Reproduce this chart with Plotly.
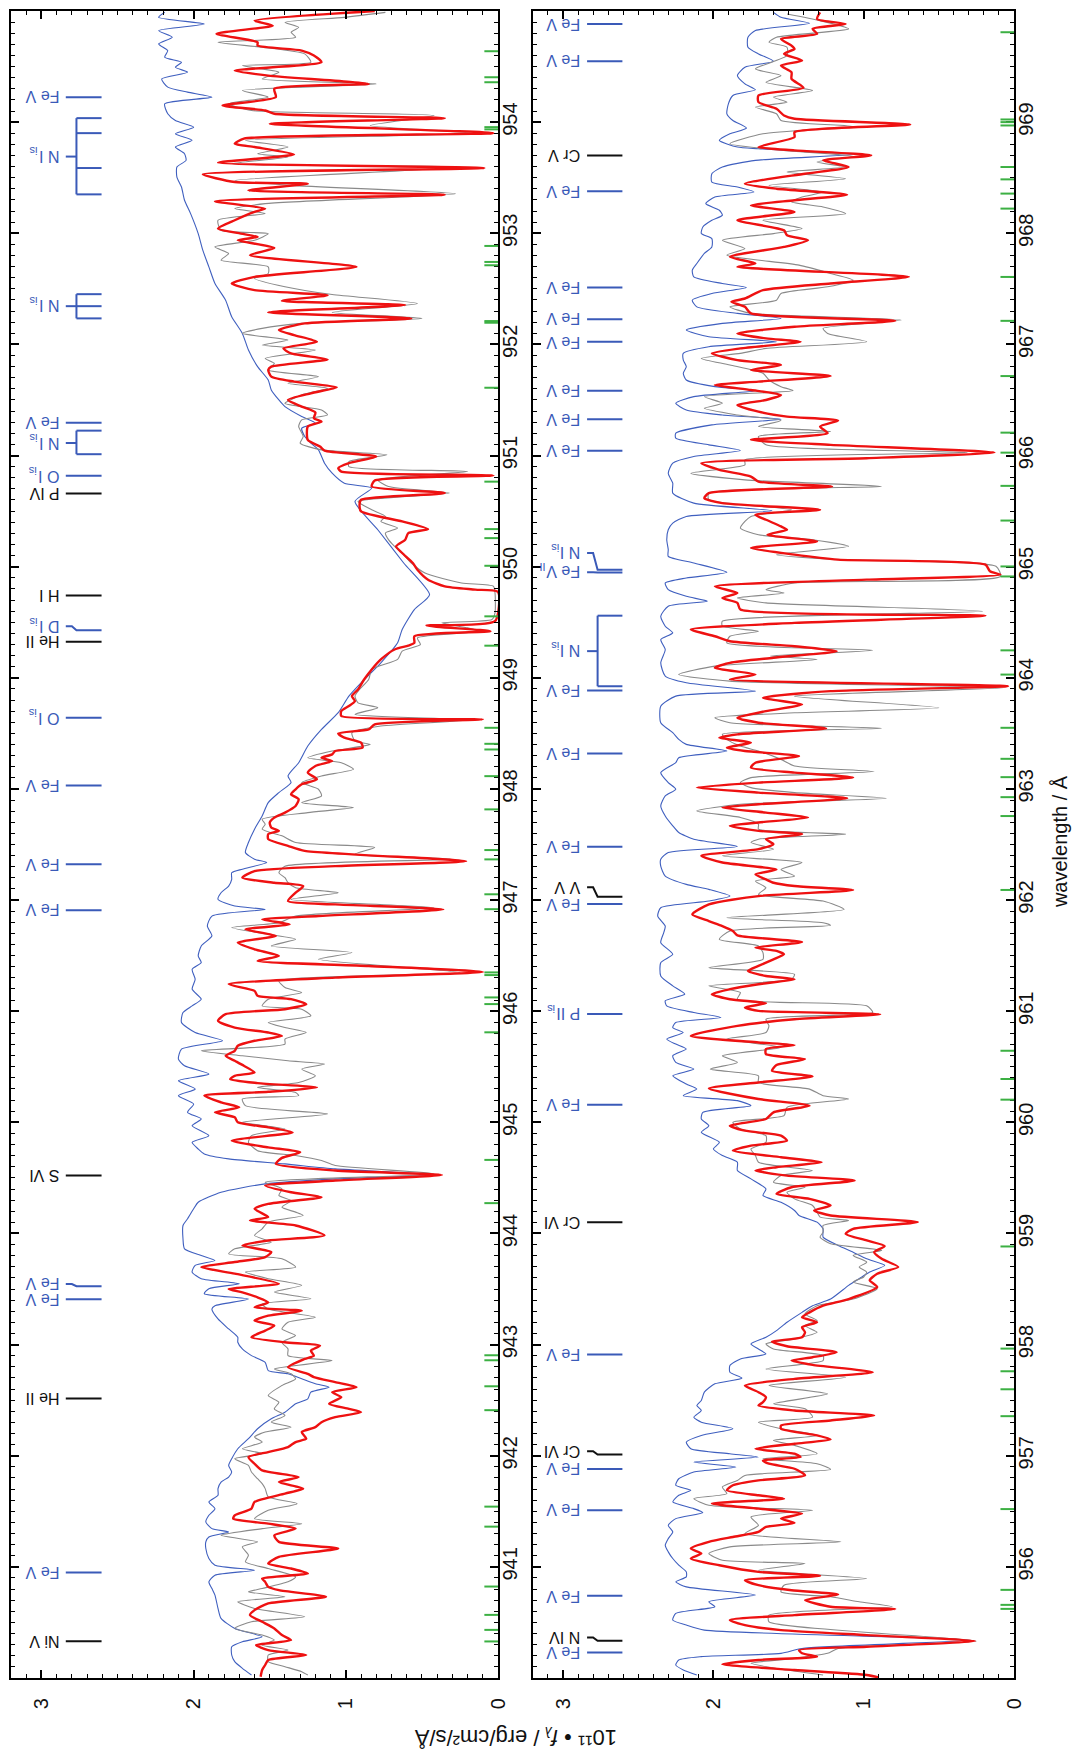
import plotly.graph_objects as go

# ---------------------------------------------------------------------------
# Spectral data (wavelength in Angstrom, flux in 1e-11 erg/cm^2/s/A)
# Panel A: 940-955 A, panel B: 955-970 A
# ---------------------------------------------------------------------------

# observed spectrum, panel A
obs_a = [
    (954.988, 0.74), (954.943, 1.01), (954.898, 1.40), (954.853, 1.31), (954.809, 1.36), (954.764, 1.33),
    (954.719, 1.84), (954.674, 1.55), (954.614, 1.27), (954.539, 1.23), (954.509, 1.68), (954.449, 1.44),
    (954.389, 1.55), (954.344, 0.80), (954.285, 1.68), (954.225, 1.51), (954.165, 1.77), (954.105, 1.62),
    (954.060, 0.42), (953.970, 0.84), (953.901, 0.18), (953.836, 1.66), (953.776, 1.38), (953.716, 1.58),
    (953.686, 1.38), (953.626, 1.75), (953.596, 0.24), (953.476, 1.73), (953.431, 1.36), (953.356, 0.28),
    (953.267, 1.53), (953.222, 1.73), (953.177, 1.53), (953.117, 1.84), (953.027, 1.82), (952.997, 1.51),
    (952.937, 1.60), (952.877, 1.86), (952.818, 1.77), (952.758, 1.82), (952.698, 1.51), (952.638, 1.51),
    (952.593, 1.60), (952.518, 1.40), (952.449, 1.09), (952.368, 0.53), (952.288, 1.09), (952.234, 0.50),
    (952.189, 1.29), (952.144, 1.55), (952.099, 1.68), (952.039, 1.38), (951.994, 1.55), (951.949, 1.20),
    (951.874, 1.53), (951.829, 1.47), (951.770, 1.51), (951.710, 1.18), (951.650, 1.38), (951.605, 1.12),
    (951.545, 1.29), (951.470, 1.40), (951.410, 1.16), (951.365, 1.12), (951.321, 1.29), (951.261, 1.31),
    (951.171, 1.28), (951.111, 1.30), (951.051, 1.16), (951.006, 0.73), (950.946, 0.98), (950.901, 0.98),
    (950.856, 0.20), (950.781, 0.79), (950.721, 0.72), (950.662, 0.32), (950.587, 0.92), (950.512, 0.83),
    (950.452, 0.74), (950.407, 0.77), (950.347, 0.66), (950.302, 0.74), (950.243, 0.72), (950.183, 0.68),
    (950.123, 0.63), (950.033, 0.57), (949.943, 0.48), (949.853, 0.24), (949.823, 0.03), (949.764, 0.02),
    (949.584, 0.02), (949.524, 0.04), (949.494, 0.37), (949.449, 0.20), (949.419, 0.13), (949.359, 0.53),
    (949.299, 0.51), (949.240, 0.63), (949.165, 0.66), (949.075, 0.83), (948.985, 0.85), (948.895, 0.91),
    (948.835, 0.94), (948.775, 0.92), (948.731, 0.79), (948.671, 0.94), (948.620, 0.20), (948.566, 0.77),
    (948.506, 0.96), (948.431, 0.94), (948.401, 0.84), (948.341, 1.09), (948.281, 1.25), (948.236, 1.03),
    (948.177, 0.95), (948.117, 1.16), (948.057, 1.29), (947.997, 1.18), (947.937, 1.16), (947.877, 1.29),
    (947.832, 0.95), (947.787, 1.25), (947.728, 1.55), (947.683, 1.53), (947.638, 1.55), (947.578, 1.42),
    (947.518, 1.33), (947.473, 0.81), (947.413, 0.94), (947.368, 0.31), (947.305, 1.40), (947.246, 1.44),
    (947.201, 1.40), (947.156, 1.38), (947.111, 1.33), (947.066, 1.05), (947.006, 1.36), (946.931, 0.42),
    (946.856, 1.33), (946.796, 1.44), (946.752, 1.75), (946.692, 1.51), (946.647, 1.33), (946.587, 1.49),
    (946.527, 0.96), (946.467, 1.18), (946.347, 0.25), (946.273, 1.44), (946.213, 1.40), (946.168, 1.29),
    (946.108, 1.51), (946.048, 1.55), (946.018, 1.29), (945.958, 1.23), (945.898, 1.51), (945.853, 1.40),
    (945.808, 1.26), (945.749, 1.40), (945.704, 1.40), (945.644, 1.95), (945.599, 1.68), (945.554, 1.38),
    (945.524, 1.14), (945.479, 1.29), (945.419, 1.20), (945.359, 1.31), (945.314, 1.58), (945.269, 1.33),
    (945.240, 1.31), (945.210, 1.68), (945.150, 1.66), (945.075, 1.12), (945.000, 1.68), (944.940, 1.40),
    (944.880, 1.62), (944.820, 1.64), (944.745, 1.58), (944.701, 1.33), (944.656, 1.16), (944.611, 1.07),
    (944.536, 0.42), (944.461, 1.53), (944.401, 1.42), (944.341, 1.44), (944.296, 1.36), (944.237, 1.42),
    (944.192, 1.33), (944.162, 1.28), (944.102, 1.51), (944.042, 1.55), (943.982, 1.60), (943.922, 1.49),
    (943.862, 1.73), (943.817, 1.77), (943.772, 1.42), (943.698, 1.33), (943.653, 1.66), (943.593, 1.51),
    (943.533, 1.29), (943.473, 1.47), (943.413, 1.23), (943.365, 1.55), (943.320, 1.51), (943.246, 1.20),
    (943.201, 1.38), (943.141, 1.42), (943.081, 1.33), (943.021, 1.42), (942.961, 1.38), (942.901, 1.38),
    (942.856, 1.09), (942.781, 1.47), (942.737, 1.36), (942.692, 1.33), (942.632, 1.42), (942.542, 1.51),
    (942.482, 1.44), (942.422, 1.47), (942.362, 1.40), (942.302, 1.49), (942.257, 1.36), (942.213, 1.53),
    (942.168, 1.60), (942.123, 1.55), (942.063, 1.68), (942.018, 1.55), (941.973, 1.73), (941.913, 1.64),
    (941.853, 1.62), (941.793, 1.58), (941.749, 1.55), (941.704, 1.53), (941.629, 1.51), (941.569, 1.32),
    (941.509, 1.51), (941.434, 1.60), (941.389, 1.29), (941.344, 1.55), (941.284, 1.82), (941.225, 1.58),
    (941.180, 1.68), (941.105, 1.64), (941.045, 1.66), (940.985, 1.51), (940.910, 1.33), (940.865, 1.38),
    (940.805, 1.55), (940.775, 1.64), (940.731, 1.40), (940.686, 1.71), (940.626, 1.60), (940.551, 1.27),
    (940.506, 1.62), (940.446, 1.73), (940.386, 1.55), (940.341, 1.47), (940.296, 1.55), (940.251, 1.38),
    (940.207, 1.51), (940.147, 1.51), (940.102, 1.40), (940.057, 1.29), (940.027, 1.25),
]

# final model, panel A
model_a = [
    (955.000, 0.81), (954.913, 1.60), (954.868, 1.48), (954.794, 1.85), (954.719, 1.58), (954.689, 1.58),
    (954.644, 1.29), (954.599, 1.21), (954.539, 1.16), (954.464, 1.73), (954.419, 1.51), (954.344, 0.85),
    (954.300, 1.47), (954.225, 1.46), (954.150, 1.81), (954.105, 1.53), (954.075, 1.47), (954.036, 0.35),
    (953.985, 1.50), (953.901, 0.03), (953.851, 1.67), (953.806, 1.73), (953.776, 1.60), (953.710, 1.34),
    (953.635, 1.84), (953.587, 0.09), (953.530, 1.94), (953.461, 1.73), (953.446, 1.25), (953.386, 1.64),
    (953.347, 0.35), (953.288, 1.86), (953.222, 1.53), (953.192, 1.60), (953.117, 1.73), (953.042, 1.84),
    (952.997, 1.69), (952.967, 1.58), (952.937, 1.71), (952.868, 1.47), (952.803, 1.63), (952.698, 0.93),
    (952.608, 1.60), (952.548, 1.75), (952.488, 1.60), (952.443, 1.12), (952.392, 1.42), (952.354, 0.61),
    (952.288, 1.51), (952.234, 0.57), (952.189, 1.27), (952.129, 1.44), (952.084, 1.34), (952.024, 1.19),
    (951.964, 1.41), (951.919, 1.36), (951.865, 1.12), (951.800, 1.49), (951.770, 1.51), (951.710, 1.49),
    (951.665, 1.34), (951.614, 1.06), (951.560, 1.23), (951.500, 1.38), (951.440, 1.29), (951.387, 1.20),
    (951.335, 1.21), (951.305, 1.16), (951.261, 1.25), (951.141, 1.25), (951.081, 1.17), (951.045, 1.14),
    (950.991, 0.80), (950.931, 0.98), (950.886, 1.05), (950.856, 1.03), (950.820, 0.03), (950.775, 0.81),
    (950.721, 0.83), (950.662, 0.35), (950.602, 0.90), (950.557, 0.91), (950.497, 0.90), (950.407, 0.63),
    (950.338, 0.46), (950.302, 0.59), (950.243, 0.61), (950.183, 0.67), (950.123, 0.63), (950.033, 0.56),
    (949.973, 0.53), (949.883, 0.46), (949.823, 0.35), (949.793, 0.15), (949.772, 0.00), (949.509, 0.02),
    (949.470, 0.47), (949.419, 0.05), (949.374, 0.55), (949.315, 0.55), (949.290, 0.59), (949.255, 0.68),
    (949.165, 0.77), (949.075, 0.83), (948.985, 0.88), (948.895, 0.92), (948.835, 0.96), (948.790, 0.94),
    (948.746, 0.98), (948.701, 1.03), (948.656, 1.03), (948.626, 0.10), (948.581, 0.81), (948.536, 0.85),
    (948.500, 1.05), (948.461, 1.01), (948.416, 0.90), (948.371, 0.89), (948.341, 1.07), (948.311, 1.09),
    (948.281, 1.16), (948.251, 1.09), (948.207, 1.20), (948.147, 1.25), (948.087, 1.19), (948.042, 1.29),
    (947.997, 1.33), (947.952, 1.36), (947.907, 1.31), (947.847, 1.33), (947.787, 1.40), (947.742, 1.47),
    (947.698, 1.50), (947.653, 1.49), (947.623, 1.44), (947.593, 1.51), (947.548, 1.51), (947.488, 1.38),
    (947.443, 1.27), (947.350, 0.21), (947.305, 1.07), (947.261, 1.60), (947.201, 1.68), (947.156, 1.47),
    (947.126, 1.28), (947.066, 1.33), (946.991, 1.38), (946.961, 1.07), (946.916, 0.36), (946.856, 1.18),
    (946.826, 1.55), (946.781, 1.37), (946.737, 1.66), (946.677, 1.46), (946.617, 1.71), (946.557, 1.60),
    (946.497, 1.44), (946.452, 1.58), (946.407, 0.85), (946.353, 0.10), (946.302, 1.07), (946.243, 1.77),
    (946.183, 1.60), (946.138, 1.58), (946.108, 1.36), (946.063, 1.26), (946.018, 1.40), (945.973, 1.79),
    (945.913, 1.84), (945.853, 1.73), (945.808, 1.51), (945.778, 1.42), (945.734, 1.60), (945.689, 1.71),
    (945.644, 1.73), (945.599, 1.79), (945.554, 1.73), (945.509, 1.67), (945.449, 1.60), (945.419, 1.73),
    (945.389, 1.76), (945.353, 1.58), (945.314, 1.19), (945.275, 1.51), (945.240, 1.93), (945.180, 1.82),
    (945.135, 1.70), (945.090, 1.86), (945.045, 1.73), (945.000, 1.71), (944.955, 1.51), (944.910, 1.35),
    (944.835, 1.75), (944.775, 1.51), (944.731, 1.30), (944.680, 1.42), (944.626, 1.46), (944.566, 1.07),
    (944.527, 0.37), (944.476, 1.07), (944.431, 1.53), (944.371, 1.36), (944.326, 1.16), (944.266, 1.51),
    (944.222, 1.60), (944.147, 1.51), (944.117, 1.63), (944.072, 1.33), (943.982, 1.14), (943.937, 1.51),
    (943.892, 1.68), (943.832, 1.49), (943.787, 1.53), (943.743, 1.73), (943.698, 1.95), (943.638, 1.73),
    (943.548, 1.44), (943.500, 1.77), (943.470, 1.68), (943.425, 1.58), (943.380, 1.51), (943.335, 1.60),
    (943.305, 1.29), (943.260, 1.51), (943.216, 1.60), (943.171, 1.47), (943.126, 1.53), (943.066, 1.62),
    (943.021, 1.40), (942.991, 1.17), (942.946, 1.23), (942.901, 1.21), (942.871, 1.27), (942.796, 1.38),
    (942.737, 1.25), (942.707, 1.21), (942.662, 1.07), (942.617, 0.93), (942.572, 1.09), (942.527, 1.03),
    (942.467, 1.11), (942.422, 0.98), (942.392, 0.90), (942.347, 1.07), (942.302, 1.16), (942.257, 1.20),
    (942.213, 1.29), (942.153, 1.26), (942.123, 1.33), (942.078, 1.38), (942.033, 1.51), (941.988, 1.64),
    (941.928, 1.60), (941.868, 1.55), (941.808, 1.31), (941.763, 1.44), (941.704, 1.28), (941.659, 1.40),
    (941.584, 1.60), (941.524, 1.62), (941.464, 1.73), (941.434, 1.74), (941.389, 1.51), (941.344, 1.33),
    (941.284, 1.47), (941.225, 1.44), (941.165, 1.05), (941.090, 1.44), (941.030, 1.51), (940.985, 1.36),
    (940.940, 1.25), (940.895, 1.55), (940.865, 1.53), (940.820, 1.51), (940.790, 1.44), (940.731, 1.13),
    (940.671, 1.51), (940.611, 1.60), (940.566, 1.63), (940.506, 1.55), (940.446, 1.47), (940.386, 1.42),
    (940.341, 1.36), (940.296, 1.59), (940.251, 1.51), (940.207, 1.26), (940.162, 1.51), (940.117, 1.53),
    (940.072, 1.55), (940.012, 1.56),
]

# comparison model, panel A
comp_a = [
    (954.988, 2.19), (954.943, 2.23), (954.883, 1.93), (954.824, 2.23), (954.764, 2.14), (954.704, 2.23),
    (954.644, 2.17), (954.584, 2.19), (954.539, 2.08), (954.494, 2.12), (954.449, 2.04), (954.389, 2.21),
    (954.315, 2.17), (954.270, 2.04), (954.225, 1.88), (954.165, 2.19), (954.075, 2.17), (954.015, 2.12),
    (953.955, 2.00), (953.895, 2.12), (953.836, 2.01), (953.776, 2.12), (953.716, 2.06), (953.656, 2.05),
    (953.596, 2.11), (953.506, 2.11), (953.416, 2.08), (953.297, 2.06), (953.177, 2.02), (952.997, 1.97),
    (952.848, 1.94), (952.698, 1.90), (952.548, 1.86), (952.398, 1.79), (952.249, 1.75), (952.099, 1.68),
    (951.949, 1.64), (951.800, 1.58), (951.680, 1.51), (951.590, 1.49), (951.500, 1.44), (951.440, 1.40),
    (951.351, 1.29), (951.291, 1.20), (951.246, 1.29), (951.171, 1.27), (951.111, 1.23), (951.051, 1.18),
    (950.931, 1.14), (950.841, 1.09), (950.751, 1.01), (950.707, 0.83), (950.587, 0.94), (950.332, 0.79),
    (950.033, 0.62), (949.748, 0.45), (949.614, 0.55), (949.434, 0.63), (949.315, 0.66), (949.135, 0.77),
    (948.955, 0.90), (948.835, 0.98), (948.686, 1.05), (948.536, 1.16), (948.386, 1.25), (948.236, 1.31),
    (948.117, 1.38), (948.057, 1.36), (947.967, 1.44), (947.877, 1.51), (947.757, 1.55), (947.638, 1.60),
    (947.518, 1.64), (947.428, 1.66), (947.368, 1.60), (947.338, 1.52), (947.278, 1.68), (947.246, 1.75),
    (947.186, 1.75), (947.126, 1.77), (947.066, 1.82), (947.006, 1.84), (946.946, 1.73), (946.916, 1.53),
    (946.856, 1.88), (946.766, 1.91), (946.677, 1.88), (946.587, 1.95), (946.497, 1.97), (946.437, 1.95),
    (946.377, 2.01), (946.287, 1.99), (946.198, 2.01), (946.108, 1.95), (946.048, 2.01), (945.988, 2.07),
    (945.898, 2.08), (945.808, 1.99), (945.734, 1.81), (945.659, 2.08), (945.569, 2.10), (945.509, 2.06),
    (945.434, 1.90), (945.374, 2.10), (945.299, 1.99), (945.240, 2.10), (945.165, 2.00), (945.090, 2.04),
    (945.030, 1.95), (944.970, 2.01), (944.880, 1.90), (944.820, 2.01), (944.760, 1.97), (944.716, 1.93),
    (944.671, 1.77), (944.626, 1.40), (944.581, 1.07), (944.527, 0.42), (944.491, 1.07), (944.446, 1.53),
    (944.371, 1.82), (944.281, 1.97), (944.222, 2.00), (944.132, 2.04), (944.072, 2.07), (943.952, 2.07),
    (943.862, 2.06), (943.802, 1.95), (943.757, 1.86), (943.713, 1.99), (943.653, 2.01), (943.593, 1.95),
    (943.548, 1.70), (943.503, 1.90), (943.458, 1.93), (943.410, 1.64), (943.350, 1.86), (943.320, 1.88),
    (943.231, 1.84), (943.141, 1.77), (943.066, 1.71), (943.021, 1.71), (942.961, 1.68), (942.901, 1.62),
    (942.841, 1.53), (942.766, 1.51), (942.737, 1.38), (942.692, 1.29), (942.647, 1.20), (942.617, 1.11),
    (942.572, 1.23), (942.512, 1.25), (942.467, 1.33), (942.392, 1.40), (942.332, 1.49), (942.243, 1.58),
    (942.153, 1.64), (942.063, 1.71), (941.973, 1.75), (941.913, 1.77), (941.853, 1.75), (941.808, 1.77),
    (941.763, 1.82), (941.704, 1.84), (941.644, 1.84), (941.584, 1.90), (941.524, 1.86), (941.464, 1.90),
    (941.404, 1.92), (941.344, 1.88), (941.314, 1.77), (941.269, 1.90), (941.225, 1.92), (941.165, 1.92),
    (941.075, 1.90), (941.015, 1.86), (940.970, 1.60), (940.925, 1.86), (940.865, 1.90), (940.805, 1.88),
    (940.746, 1.86), (940.626, 1.84), (940.536, 1.82), (940.446, 1.73), (940.371, 1.55), (940.326, 1.68),
    (940.281, 1.75), (940.207, 1.75), (940.147, 1.73), (940.087, 1.68), (940.027, 1.62),
]

# observed spectrum, panel B
obs_b = [
    (969.973, 1.51), (969.913, 1.29), (969.839, 1.10), (969.764, 1.58), (969.719, 1.63), (969.674, 1.51),
    (969.599, 1.51), (969.479, 1.72), (969.419, 1.55), (969.359, 1.65), (969.285, 1.34), (969.225, 1.60),
    (969.180, 1.51), (969.135, 1.72), (969.075, 1.58), (969.015, 1.55), (968.961, 1.07), (968.895, 1.67),
    (968.806, 1.89), (968.746, 1.53), (968.692, 1.07), (968.641, 1.31), (968.596, 1.12), (968.551, 1.51),
    (968.491, 1.12), (968.431, 1.63), (968.371, 1.27), (968.326, 1.41), (968.282, 1.48), (968.237, 1.27),
    (968.177, 1.12), (968.117, 1.67), (968.042, 1.41), (967.997, 1.60), (967.937, 1.94), (967.862, 1.79),
    (967.803, 1.91), (967.713, 1.43), (967.638, 1.22), (967.578, 1.07), (967.518, 1.24), (967.458, 1.55),
    (967.398, 1.58), (967.338, 1.89), (967.279, 1.75), (967.219, 0.75), (967.144, 1.27), (967.099, 1.24),
    (967.024, 0.98), (966.964, 1.65), (966.919, 1.82), (966.874, 2.08), (966.815, 1.89), (966.740, 1.67),
    (966.680, 1.63), (966.620, 1.55), (966.584, 1.47), (966.530, 2.06), (966.470, 1.94), (966.425, 2.06),
    (966.365, 1.84), (966.315, 1.55), (966.261, 1.70), (966.216, 1.22), (966.171, 1.70), (966.096, 1.65),
    (966.027, 0.31), (965.961, 1.79), (965.916, 1.79), (965.841, 2.15), (965.781, 1.79), (965.721, 0.88),
    (965.662, 2.03), (965.602, 2.03), (965.512, 1.48), (965.452, 1.75), (965.407, 1.79), (965.347, 1.82),
    (965.287, 1.70), (965.242, 1.34), (965.183, 1.10), (965.108, 1.58), (965.063, 1.17), (965.003, 0.12),
    (964.913, 0.09), (964.853, 1.46), (964.793, 1.65), (964.763, 1.53), (964.718, 1.84), (964.674, 1.65),
    (964.599, 0.21), (964.509, 1.94), (964.464, 1.94), (964.419, 1.70), (964.374, 1.89), (964.314, 1.91),
    (964.248, 0.94), (964.195, 1.62), (964.165, 1.31), (964.105, 1.99), (964.030, 2.23), (963.970, 1.89),
    (963.910, 0.07), (963.835, 1.46), (963.730, 0.50), (963.685, 1.46), (963.641, 1.99), (963.596, 1.89),
    (963.545, 0.88), (963.491, 1.94), (963.446, 1.91), (963.386, 1.82), (963.341, 1.70), (963.266, 1.55),
    (963.207, 1.46), (963.156, 0.93), (963.102, 1.75), (963.057, 1.82), (963.012, 1.75), (962.967, 1.46),
    (962.916, 0.85), (962.862, 1.82), (962.802, 2.11), (962.743, 1.82), (962.683, 1.70), (962.638, 1.70),
    (962.593, 1.12), (962.548, 1.70), (962.518, 1.75), (962.458, 1.60), (962.398, 1.94), (962.338, 1.41),
    (962.275, 1.55), (962.216, 1.46), (962.171, 1.72), (962.111, 1.65), (962.051, 1.70), (961.991, 1.27),
    (961.916, 1.13), (961.841, 1.91), (961.796, 1.27), (961.772, 1.22), (961.722, 1.89), (961.647, 1.96),
    (961.587, 1.70), (961.527, 1.67), (961.467, 1.67), (961.392, 2.03), (961.332, 1.46), (961.287, 1.48),
    (961.228, 2.03), (961.168, 1.82), (961.108, 1.84), (961.048, 0.98), (960.988, 0.94), (960.928, 1.65),
    (960.868, 1.63), (960.808, 1.65), (960.749, 1.91), (960.674, 1.55), (960.599, 1.94), (960.539, 1.84),
    (960.479, 2.02), (960.419, 1.70), (960.359, 1.70), (960.299, 1.36), (960.240, 1.27), (960.210, 1.10),
    (960.135, 1.51), (960.060, 1.53), (960.000, 1.87), (959.940, 1.82), (959.880, 1.65), (959.820, 1.65),
    (959.760, 1.75), (959.701, 1.72), (959.641, 1.70), (959.566, 1.34), (959.521, 1.55), (959.461, 1.60),
    (959.416, 1.39), (959.371, 1.51), (959.311, 1.46), (959.252, 1.34), (959.192, 1.31), (959.147, 1.29),
    (959.117, 1.10), (959.072, 1.27), (959.012, 1.27), (958.967, 1.29), (958.907, 1.22), (958.847, 0.88),
    (958.802, 1.07), (958.742, 0.98), (958.698, 1.03), (958.653, 0.98), (958.608, 1.00), (958.563, 1.07),
    (958.503, 0.91), (958.410, 1.07), (958.350, 1.31), (958.275, 1.39), (958.216, 1.31), (958.171, 1.39),
    (958.111, 1.31), (958.051, 1.46), (958.006, 1.65), (957.961, 1.60), (957.901, 1.27), (957.856, 1.27),
    (957.781, 1.65), (957.707, 1.12), (957.632, 1.63), (957.557, 1.24), (957.467, 1.60), (957.422, 1.39),
    (957.347, 1.34), (957.302, 1.70), (957.243, 1.55), (957.183, 1.31), (957.138, 1.60), (957.093, 1.46),
    (957.018, 1.31), (956.973, 1.67), (956.928, 1.31), (956.877, 1.22), (956.823, 1.79), (956.778, 1.84),
    (956.719, 1.94), (956.659, 1.91), (956.614, 2.13), (956.554, 2.03), (956.509, 1.34), (956.449, 1.75),
    (956.374, 1.70), (956.299, 1.79), (956.225, 1.15), (956.180, 1.89), (956.120, 2.03), (956.060, 1.94),
    (956.030, 1.39), (955.970, 1.70), (955.895, 0.98), (955.835, 1.53), (955.775, 1.55), (955.731, 1.22),
    (955.686, 1.03), (955.641, 0.81), (955.566, 1.63), (955.506, 1.63), (955.332, 0.25), (955.266, 1.17),
    (955.222, 1.24), (955.177, 1.46), (955.132, 1.75), (955.072, 1.51), (955.027, 1.27),
]

# final model, panel B
model_b = [
    (969.988, 1.29), (969.928, 1.31), (969.883, 1.12), (969.839, 1.34), (969.794, 1.31), (969.749, 1.55),
    (969.689, 1.48), (969.659, 1.46), (969.614, 1.53), (969.554, 1.41), (969.509, 1.55), (969.449, 1.48),
    (969.389, 1.48), (969.309, 1.40), (969.240, 1.70), (969.180, 1.70), (969.120, 1.58), (969.060, 1.53),
    (969.030, 1.46), (968.979, 0.69), (968.910, 1.46), (968.865, 1.46), (968.776, 1.70), (968.746, 1.46),
    (968.701, 0.95), (968.656, 1.27), (968.596, 1.10), (968.536, 1.39), (968.446, 1.79), (968.401, 1.58),
    (968.347, 1.11), (968.297, 1.46), (968.252, 1.75), (968.192, 1.46), (968.117, 1.84), (968.027, 1.53),
    (967.982, 1.51), (967.937, 1.37), (967.877, 1.53), (967.788, 1.89), (967.728, 1.72), (967.698, 1.84),
    (967.608, 0.70), (967.548, 1.22), (967.488, 1.67), (967.413, 1.79), (967.383, 1.88), (967.338, 1.79),
    (967.279, 1.75), (967.213, 0.79), (967.159, 1.46), (967.099, 1.84), (967.054, 1.65), (967.024, 1.42),
    (966.964, 1.82), (966.919, 2.01), (966.859, 1.84), (966.815, 1.55), (966.770, 1.75), (966.716, 1.22),
    (966.665, 1.70), (966.635, 1.99), (966.590, 1.75), (966.545, 1.55), (966.500, 1.65), (966.455, 1.84),
    (966.395, 1.70), (966.350, 1.51), (966.315, 1.17), (966.261, 1.29), (966.201, 1.24), (966.141, 1.75),
    (966.096, 1.22), (966.027, 0.13), (965.976, 0.98), (965.931, 2.08), (965.871, 1.96), (965.811, 1.75),
    (965.766, 1.70), (965.721, 1.21), (965.662, 2.03), (965.617, 2.06), (965.572, 1.94), (965.512, 1.29),
    (965.467, 1.72), (965.422, 1.65), (965.362, 1.55), (965.332, 1.51), (965.287, 1.64), (965.227, 1.31),
    (965.168, 1.75), (965.108, 1.46), (965.063, 1.17), (965.018, 0.19), (964.958, 0.16), (964.928, 0.09),
    (964.883, 0.98), (964.823, 1.99), (964.763, 1.84), (964.718, 1.94), (964.674, 1.84), (964.614, 1.82),
    (964.560, 0.19), (964.494, 1.46), (964.434, 2.15), (964.374, 1.99), (964.329, 1.89), (964.284, 1.46),
    (964.239, 1.18), (964.180, 1.60), (964.135, 1.89), (964.090, 1.99), (964.030, 1.72), (963.985, 1.89),
    (963.925, 0.04), (963.880, 1.22), (963.820, 1.67), (963.760, 1.41), (963.700, 1.65), (963.641, 1.84),
    (963.596, 1.70), (963.545, 1.25), (963.491, 1.84), (963.461, 1.96), (963.416, 1.75), (963.371, 1.91),
    (963.341, 1.79), (963.296, 1.43), (963.236, 1.72), (963.192, 1.75), (963.147, 1.46), (963.102, 1.07),
    (963.057, 1.70), (963.012, 2.11), (962.967, 1.70), (962.916, 1.11), (962.862, 1.70), (962.832, 1.94),
    (962.787, 1.65), (962.743, 1.37), (962.698, 1.70), (962.668, 1.89), (962.623, 1.70), (962.593, 1.41),
    (962.548, 1.65), (962.503, 1.60), (962.458, 1.70), (962.398, 2.08), (962.338, 1.94), (962.275, 1.58),
    (962.231, 1.72), (962.186, 1.65), (962.156, 1.60), (962.126, 1.46), (962.090, 1.07), (962.036, 1.70),
    (961.961, 2.03), (961.871, 2.14), (961.811, 2.03), (961.766, 1.94), (961.722, 1.87), (961.683, 1.84),
    (961.623, 1.41), (961.572, 1.72), (961.542, 1.58), (961.512, 1.53), (961.467, 1.60), (961.407, 1.70),
    (961.362, 1.77), (961.317, 1.65), (961.287, 1.46), (961.243, 1.70), (961.198, 1.89), (961.153, 2.01),
    (961.108, 1.89), (961.072, 1.65), (961.033, 1.79), (961.003, 1.70), (960.973, 0.89), (960.928, 1.46),
    (960.868, 1.84), (960.778, 2.15), (960.719, 1.70), (960.695, 1.46), (960.659, 1.65), (960.614, 1.65),
    (960.569, 1.39), (960.515, 1.58), (960.464, 1.61), (960.413, 1.34), (960.359, 1.70), (960.305, 2.03),
    (960.210, 1.70), (960.150, 1.36), (960.090, 1.60), (960.030, 1.65), (959.970, 1.89), (959.925, 1.79),
    (959.880, 1.55), (959.835, 1.51), (959.790, 1.75), (959.745, 1.87), (959.686, 1.55), (959.641, 1.28),
    (959.596, 1.58), (959.566, 1.72), (959.521, 1.51), (959.476, 1.06), (959.416, 1.48), (959.356, 1.58),
    (959.311, 1.36), (959.252, 1.22), (959.207, 1.33), (959.162, 1.22), (959.102, 0.64), (959.042, 1.07),
    (958.997, 1.12), (958.937, 0.98), (958.886, 0.86), (958.832, 0.93), (958.772, 0.88), (958.698, 0.77),
    (958.638, 0.91), (958.578, 0.96), (958.518, 0.91), (958.410, 1.10), (958.350, 1.27), (958.290, 1.36),
    (958.246, 1.41), (958.201, 1.31), (958.156, 1.41), (958.111, 1.39), (958.066, 1.41), (958.027, 1.61),
    (957.985, 1.51), (957.931, 1.18), (957.886, 1.34), (957.856, 1.48), (957.817, 1.34), (957.751, 0.94),
    (957.692, 1.46), (957.632, 1.79), (957.572, 1.70), (957.527, 1.65), (957.482, 1.67), (957.452, 1.70),
    (957.407, 1.46), (957.362, 0.93), (957.317, 1.22), (957.272, 1.55), (957.243, 1.55), (957.183, 1.31),
    (957.147, 1.22), (957.108, 1.46), (957.063, 1.72), (957.018, 1.46), (956.988, 1.42), (956.958, 1.67),
    (956.928, 1.63), (956.883, 1.46), (956.823, 1.39), (956.778, 1.70), (956.734, 1.87), (956.689, 1.91),
    (956.644, 1.70), (956.614, 1.53), (956.569, 2.01), (956.524, 1.70), (956.479, 1.41), (956.434, 1.55),
    (956.395, 1.46), (956.359, 1.65), (956.314, 1.70), (956.269, 1.87), (956.225, 2.03), (956.165, 2.15),
    (956.120, 2.08), (956.075, 2.15), (956.015, 1.96), (955.955, 1.70), (955.919, 1.29), (955.880, 1.79),
    (955.835, 1.70), (955.790, 1.48), (955.751, 1.17), (955.701, 1.39), (955.641, 1.22), (955.620, 0.79),
    (955.566, 1.46), (955.521, 1.89), (955.476, 1.79), (955.431, 1.55), (955.386, 0.98), (955.332, 0.26),
    (955.281, 0.98), (955.251, 1.43), (955.222, 1.41), (955.192, 1.31), (955.162, 1.70), (955.123, 1.94),
    (955.072, 1.46), (955.027, 0.98), (955.005, 0.90),
]

# comparison model, panel B
comp_b = [
    (969.988, 1.60), (969.943, 1.55), (969.889, 1.36), (969.824, 1.72), (969.764, 1.77), (969.674, 1.77),
    (969.614, 1.70), (969.548, 1.60), (969.494, 1.79), (969.419, 1.84), (969.344, 1.79), (969.291, 1.72),
    (969.240, 1.87), (969.165, 1.90), (969.075, 1.91), (969.015, 1.87), (968.946, 1.78), (968.895, 1.89),
    (968.836, 1.96), (968.776, 1.84), (968.761, 1.70), (968.710, 1.07), (968.656, 1.72), (968.596, 1.94),
    (968.536, 2.01), (968.461, 2.01), (968.416, 1.84), (968.371, 1.73), (968.326, 1.99), (968.267, 2.05),
    (968.207, 1.96), (968.162, 1.94), (968.117, 2.01), (968.057, 2.07), (967.997, 2.08), (967.952, 2.01),
    (967.877, 2.01), (967.818, 2.06), (967.728, 2.11), (967.668, 2.14), (967.608, 2.13), (967.548, 1.94),
    (967.512, 1.78), (967.458, 2.01), (967.398, 2.14), (967.338, 2.11), (967.279, 1.84), (967.234, 1.55),
    (967.189, 1.94), (967.129, 2.18), (967.069, 2.03), (967.024, 1.58), (966.979, 2.03), (966.919, 2.20),
    (966.859, 2.20), (966.800, 2.18), (966.740, 2.20), (966.680, 2.18), (966.620, 1.99), (966.584, 1.72),
    (966.530, 2.13), (966.470, 2.25), (966.410, 2.18), (966.365, 1.94), (966.327, 1.55), (966.276, 2.01),
    (966.201, 2.25), (966.156, 2.25), (966.096, 2.03), (966.045, 1.82), (965.991, 2.13), (965.931, 2.27),
    (965.841, 2.30), (965.751, 2.27), (965.662, 2.27), (965.572, 2.13), (965.503, 1.61), (965.452, 2.18),
    (965.392, 2.27), (965.332, 2.30), (965.242, 2.31), (965.153, 2.30), (965.093, 2.30), (965.033, 2.13),
    (964.949, 1.91), (964.898, 2.18), (964.853, 2.32), (964.793, 2.30), (964.733, 2.18), (964.689, 2.04),
    (964.644, 2.30), (964.554, 2.35), (964.464, 2.32), (964.404, 2.27), (964.344, 2.35), (964.254, 2.32),
    (964.135, 2.35), (964.015, 2.32), (963.955, 2.18), (963.880, 1.72), (963.835, 2.25), (963.745, 2.35),
    (963.596, 2.35), (963.506, 2.27), (963.446, 2.23), (963.401, 2.18), (963.341, 1.91), (963.281, 2.23),
    (963.236, 2.25), (963.147, 2.35), (963.057, 2.30), (962.997, 2.25), (962.937, 2.32), (962.847, 2.35),
    (962.757, 2.32), (962.668, 2.27), (962.608, 2.23), (962.548, 2.13), (962.482, 1.84), (962.428, 2.30),
    (962.368, 2.35), (962.305, 2.35), (962.216, 2.32), (962.141, 2.18), (962.096, 2.03), (962.036, 1.89),
    (961.991, 2.03), (961.931, 2.35), (961.856, 2.37), (961.766, 2.32), (961.707, 2.33), (961.617, 2.35),
    (961.512, 2.27), (961.437, 2.35), (961.317, 2.35), (961.228, 2.27), (961.153, 2.19), (961.093, 2.32),
    (961.048, 2.31), (960.988, 2.13), (960.943, 1.95), (960.898, 2.25), (960.853, 2.27), (960.808, 2.20),
    (960.749, 2.31), (960.704, 2.25), (960.659, 2.18), (960.599, 2.27), (960.539, 2.25), (960.479, 2.13),
    (960.419, 2.27), (960.344, 2.18), (960.299, 2.11), (960.240, 2.20), (960.195, 1.84), (960.150, 1.75),
    (960.090, 2.07), (960.030, 2.08), (959.970, 2.03), (959.910, 2.08), (959.820, 1.96), (959.760, 2.00),
    (959.701, 1.94), (959.641, 1.84), (959.566, 1.84), (959.491, 1.75), (959.401, 1.65), (959.341, 1.67),
    (959.281, 1.55), (959.207, 1.46), (959.162, 1.43), (959.102, 1.31), (959.042, 1.27), (958.967, 1.27),
    (958.892, 1.17), (958.832, 1.07), (958.772, 0.98), (958.713, 0.86), (958.653, 0.96), (958.593, 1.03),
    (958.533, 1.10), (958.410, 1.22), (958.350, 1.34), (958.290, 1.41), (958.201, 1.51), (958.126, 1.58),
    (958.066, 1.65), (958.006, 1.75), (957.961, 1.70), (957.916, 1.65), (957.871, 1.82), (957.811, 1.89),
    (957.751, 1.89), (957.698, 1.81), (957.647, 1.99), (957.572, 2.06), (957.497, 2.08), (957.452, 2.11),
    (957.407, 2.08), (957.347, 2.13), (957.302, 2.08), (957.243, 1.87), (957.183, 2.08), (957.123, 2.18),
    (957.063, 2.15), (957.018, 1.89), (956.988, 1.70), (956.943, 2.13), (956.898, 1.85), (956.853, 2.13),
    (956.793, 2.23), (956.734, 2.25), (956.689, 2.15), (956.644, 2.23), (956.584, 2.27), (956.524, 2.13),
    (956.488, 2.07), (956.434, 2.25), (956.374, 2.30), (956.314, 2.27), (956.254, 2.30), (956.195, 2.32),
    (956.135, 2.30), (956.075, 2.27), (956.015, 2.23), (955.955, 2.18), (955.910, 2.18), (955.865, 2.25),
    (955.820, 2.18), (955.746, 1.72), (955.686, 2.03), (955.641, 1.99), (955.581, 2.25), (955.521, 2.27),
    (955.476, 2.18), (955.431, 2.06), (955.341, 0.30), (955.266, 1.41), (955.222, 1.55), (955.192, 2.08),
    (955.162, 2.23), (955.117, 2.25), (955.072, 2.20), (955.027, 2.11),
]

# line identifications: (ion, subscript, label wavelength, marker wavelengths, colour group)
ids_a = [
    ("Fe V", "", 954.225, [954.225], "blue"),
    ("N I", "is", 953.69, [954.036, 953.901, 953.587, 953.350], "blue"),
    ("N I", "is", 952.344, [952.452, 952.344, 952.234], "blue"),
    ("Fe V", "", 951.296, [951.296], "blue"),
    ("N I", "is", 951.113, [951.224, 951.012], "blue"),
    ("O I", "is", 950.817, [950.817], "blue"),
    ("P IV", "", 950.658, [950.658], "black"),
    ("H I", "", 949.741, [949.741], "black"),
    ("D I", "is", 949.463, [949.427], "blue"),
    ("He II", "", 949.325, [949.325], "black"),
    ("O I", "is", 948.640, [948.640], "blue"),
    ("Fe V", "", 948.032, [948.032], "blue"),
    ("Fe V", "", 947.322, [947.322], "blue"),
    ("Fe V", "", 946.909, [946.909], "blue"),
    ("S VI", "", 944.521, [944.521], "black"),
    ("Fe V", "", 943.545, [943.525], "blue"),
    ("Fe V", "", 943.407, [943.407], "blue"),
    ("He II", "", 942.515, [942.515], "black"),
    ("Fe V", "", 940.950, [940.950], "blue"),
    ("Ni V", "", 940.330, [940.330], "black"),
]
ids_b = [
    ("Fe V", "", 969.884, [969.884], "blue"),
    ("Fe V", "", 969.548, [969.548], "blue"),
    ("Cr V", "", 968.700, [968.700], "black"),
    ("Fe V", "", 968.377, [968.377], "blue"),
    ("Fe V", "", 967.512, [967.512], "blue"),
    ("Fe V", "", 967.227, [967.227], "blue"),
    ("Fe V", "", 967.023, [967.023], "blue"),
    ("Fe V", "", 966.583, [966.583], "blue"),
    ("Fe V", "", 966.326, [966.326], "blue"),
    ("Fe V", "", 966.044, [966.044], "blue"),
    ("N I", "is", 965.122, [964.972], "blue"),
    ("Fe V", "II", 964.950, [964.948], "blue"),
    ("N I", "is", 964.240, [964.559, 963.924], "blue"),
    ("Fe V", "", 963.885, [963.885], "blue"),
    ("Fe V", "", 963.319, [963.319], "blue"),
    ("Fe V", "", 962.480, [962.480], "blue"),
    ("V V", "", 962.115, [962.030], "black"),
    ("Fe V", "", 961.965, [961.965], "blue"),
    ("P II", "is", 960.974, [960.974], "blue"),
    ("Fe V", "", 960.159, [960.159], "blue"),
    ("Cr VI", "", 959.100, [959.100], "black"),
    ("Fe V", "", 957.910, [957.910], "blue"),
    ("Cr VI", "", 957.040, [957.010], "black"),
    ("Fe V", "", 956.880, [956.880], "blue"),
    ("Fe V", "", 956.510, [956.510], "blue"),
    ("Fe V", "", 955.740, [955.740], "blue"),
    ("N IV", "", 955.365, [955.335], "black"),
    ("Fe V", "", 955.230, [955.230], "blue"),
]

# interstellar H2 line positions (short green markers)
h2_a = [954.638, 954.404, 954.359, 953.955, 953.935, 952.886, 952.742, 952.712, 952.210, 952.195, 951.610,
        950.765, 950.338, 950.257, 950.008, 949.553, 949.289, 948.550, 948.406, 948.355, 948.115, 947.816,
        947.450, 947.366, 947.052, 946.918, 946.349, 946.325, 946.124, 946.064, 945.810, 944.662, 944.273,
        942.904, 942.859, 942.625, 942.410, 941.542, 941.362, 940.823, 940.568, 940.433, 940.329]
h2_b = [969.809, 969.024, 969.000, 968.970, 968.596, 968.485, 968.357, 968.222, 967.607, 967.212, 966.715,
        966.206, 966.026, 965.727, 965.415, 965.002, 964.912, 964.247, 964.029, 963.550, 963.271, 963.106,
        962.926, 962.756, 962.091, 960.644, 960.390, 960.204, 958.883, 957.964, 957.760, 957.598, 957.356,
        956.520, 955.793, 955.658, 955.622]

# ---------------------------------------------------------------------------
FONT = "Liberation Sans, Arial, Helvetica, sans-serif"
RED = "#ee1111"
GRAY = "#8a8a8a"
BLUE = "#3f5fbf"
ID_COLORS = {"blue": "#3a5ab8", "black": "#111111"}
GREEN = "#3cb043"

# Arial/Liberation Sans advance widths (em) for the label glyphs
GLYPH_W = {"F": 0.611, "e": 0.556, " ": 0.278, "V": 0.667, "N": 0.722, "I": 0.278, "O": 0.778,
           "D": 0.722, "P": 0.667, "H": 0.722, "S": 0.667, "C": 0.722, "r": 0.333, "i": 0.222}
ID_SIZE = 16


def text_width(s, size):
    return sum(GLYPH_W.get(ch, 0.6) for ch in s) * size


fig = go.Figure()


def add_panel(xa, ya, obs, model, comp):
    for pts, color, width in ((comp, BLUE, 1.1), (obs, GRAY, 1.1), (model, RED, 2.4)):
        fig.add_trace(go.Scatter(
            x=[p[1] for p in pts], y=[p[0] for p in pts],
            mode="lines", line=dict(color=color, width=width, shape="spline", smoothing=0.6),
            xaxis=xa, yaxis=ya, showlegend=False, hoverinfo="skip"))


add_panel("x", "y", obs_a, model_a, comp_a)
add_panel("x2", "y2", obs_b, model_b, comp_b)

shapes = []
annotations = []

# horizontal positions of identification markers, in flux units
X_TEXT, X_START, X_BRACKET, X_END = 2.87, 2.84, 2.77, 2.605


def add_ids(ids, xr, yr):
    for ion, sub, lab, ticks, grp in ids:
        col = ID_COLORS[grp]
        annotations.append(dict(
            x=X_TEXT, y=lab, xref=xr, yref=yr, text=ion, showarrow=False,
            textangle=180, xanchor="right", yanchor="middle",
            font=dict(family=FONT, size=ID_SIZE, color=col)))
        if sub:
            # subscript follows the ion name; the label is drawn upside down,
            # so it sits to the left of the name and slightly higher
            annotations.append(dict(
                x=X_TEXT, y=lab, xref=xr, yref=yr, text=sub, showarrow=False,
                textangle=180, xanchor="right", yanchor="middle",
                xshift=-(text_width(ion, ID_SIZE) + 1), yshift=5,
                font=dict(family=FONT, size=11, color=col)))
        if len(ticks) > 1:
            shapes.append(dict(type="line", xref=xr, yref=yr, x0=X_BRACKET, x1=X_BRACKET,
                               y0=min(ticks), y1=max(ticks), line=dict(color=col, width=2)))
            shapes.append(dict(type="line", xref=xr, yref=yr, x0=X_START, x1=X_BRACKET,
                               y0=lab, y1=lab, line=dict(color=col, width=2)))
            for t in ticks:
                shapes.append(dict(type="line", xref=xr, yref=yr, x0=X_BRACKET, x1=X_END,
                                   y0=t, y1=t, line=dict(color=col, width=2)))
        elif abs(ticks[0] - lab) > 1e-6:
            t = ticks[0]
            path = f"M {X_START},{lab} L 2.80,{lab} L {X_BRACKET},{t} L {X_END},{t}"
            shapes.append(dict(type="path", xref=xr, yref=yr, path=path,
                               line=dict(color=col, width=2)))
        else:
            shapes.append(dict(type="line", xref=xr, yref=yr, x0=X_START, x1=X_END,
                               y0=lab, y1=lab, line=dict(color=col, width=2)))


add_ids(ids_a, "x", "y")
add_ids(ids_b, "x2", "y2")

for wl in h2_a:
    shapes.append(dict(type="line", xref="x", yref="y", x0=0.0, x1=0.09, y0=wl, y1=wl,
                       line=dict(color=GREEN, width=2)))
for wl in h2_b:
    shapes.append(dict(type="line", xref="x2", yref="y2", x0=0.0, x1=0.09, y0=wl, y1=wl,
                       line=dict(color=GREEN, width=2)))

# wavelength axis title (right-hand side, reading upwards)
annotations.append(dict(x=1.0458, y=0.502, xref="paper", yref="paper", text="wavelength / Å",
                        showarrow=False, textangle=-90, xanchor="center", yanchor="middle",
                        font=dict(family=FONT, size=20, color="#111")))

# flux axis title, drawn upside down in three pieces: "10¹¹ • f", subscript "λ", " / erg/cm²/s/Å"
TITLE_Y = -0.036
annotations.append(dict(x=0.6067, y=TITLE_Y, xref="paper", yref="paper", text="10¹¹ • <i>f</i>",
                        showarrow=False, textangle=180, xanchor="right", yanchor="middle",
                        font=dict(family=FONT, size=22, color="#111")))
annotations.append(dict(x=0.5422, y=TITLE_Y, xref="paper", yref="paper", text="<i>λ</i>",
                        showarrow=False, textangle=180, xanchor="right", yanchor="middle",
                        yshift=6, font=dict(family=FONT, size=14, color="#111")))
annotations.append(dict(x=0.5347, y=TITLE_Y, xref="paper", yref="paper", text=" / erg/cm²/s/Å",
                        showarrow=False, textangle=180, xanchor="right", yanchor="middle",
                        font=dict(family=FONT, size=22, color="#111")))

flux_axis = dict(
    range=[3.2, 0], tickvals=[0, 1, 2, 3], ticks="inside", ticklen=8, tickwidth=1.5,
    tickcolor="black", minor=dict(dtick=0.1, tick0=0, ticks="inside", ticklen=4,
                                  tickwidth=1, tickcolor="black"),
    showline=True, linewidth=2, linecolor="black", mirror="allticks", tickangle=-90,
    tickfont=dict(family=FONT, size=20, color="#111"), showgrid=False, zeroline=False,
    ticklabelstandoff=10, fixedrange=True)


def wl_axis(lo, hi, domain_anchor):
    return dict(
        range=[lo, hi], tickvals=list(range(lo + 1, hi)), ticks="inside", ticklen=8, tickwidth=1.5,
        tickcolor="black", minor=dict(dtick=0.1, tick0=lo, ticks="inside", ticklen=4,
                                      tickwidth=1, tickcolor="black"),
        showline=True, linewidth=2, linecolor="black", mirror="allticks", side="right",
        tickangle=-90, tickfont=dict(family=FONT, size=20, color="#111"), showgrid=False,
        zeroline=False, anchor=domain_anchor, ticklabelstandoff=-7, fixedrange=True)


fig.update_layout(
    width=1076, height=1752,
    margin=dict(l=9, r=62, t=11, b=74),
    paper_bgcolor="white", plot_bgcolor="white",
    showlegend=False,
    xaxis=dict(flux_axis, domain=[0.0, 0.4856], anchor="y"),
    xaxis2=dict(flux_axis, domain=[0.5204, 1.0], anchor="y2"),
    yaxis=wl_axis(940, 955, "x"),
    yaxis2=wl_axis(955, 970, "x2"),
    shapes=shapes,
    annotations=annotations,
)

fig.write_html("out.html")
